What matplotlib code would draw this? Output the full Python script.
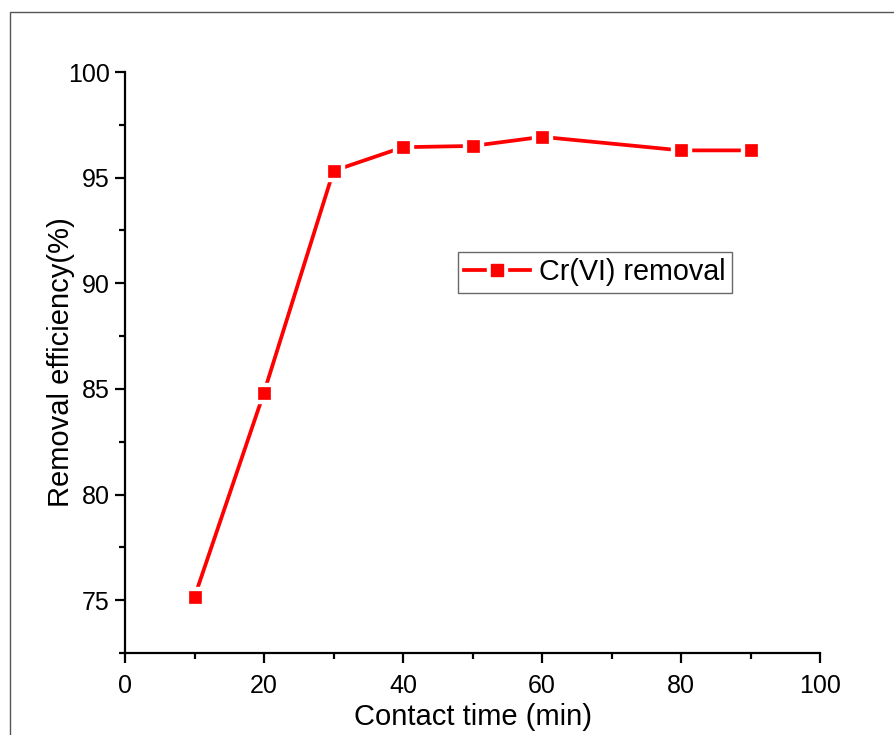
import matplotlib
matplotlib.use('Agg')
import matplotlib.pyplot as plt
from matplotlib.patches import Rectangle
from matplotlib.ticker import MultipleLocator
from matplotlib.lines import Line2D

plt.rcParams['font.family'] = ['Liberation Sans', 'DejaVu Sans']

# contact time (min) vs removal efficiency (%)
tempo = [10, 20, 30, 40, 50, 60, 80, 90]
remocao = [75.15, 84.83, 95.32, 96.44, 96.50, 96.93, 96.29, 96.29]
rotulo = 'Cr(VI) removal'

fig = plt.figure(figsize=(8.94, 7.35), dpi=100)
ax = fig.add_axes([125/894, 1-653/735, 695/894, 581/735])

vermelho = '#ff0000'
lw_linha = 2.7
ms_branco = 14.0
ms_marc = 8.8
ax.plot(tempo, remocao, color=vermelho, lw=lw_linha, zorder=2)
# white squares behind the markers make the small gaps in the line
ax.plot(tempo, remocao, ls='none', marker='s', ms=ms_branco, mfc='white', mec='white', zorder=3)
ax.plot(tempo, remocao, ls='none', marker='s', ms=ms_marc, mfc=vermelho, mec=vermelho, mew=0.5, zorder=4)

ax.set_xlim(0, 100)
ax.set_ylim(72.5, 100)
ax.xaxis.set_major_locator(MultipleLocator(20))
ax.xaxis.set_minor_locator(MultipleLocator(10))
ax.yaxis.set_major_locator(MultipleLocator(5))
ax.yaxis.set_minor_locator(MultipleLocator(2.5))

for lado in ['top', 'right']:
    ax.spines[lado].set_visible(False)
for lado in ['left', 'bottom']:
    ax.spines[lado].set_linewidth(1.6)

ax.tick_params(which='major', direction='out', length=7, width=1.6, labelsize=18, pad=4)
ax.tick_params(which='minor', direction='out', length=4, width=1.6)
ax.tick_params(axis='x', which='major', pad=8)

ax.set_xlabel('Contact time (min)', fontsize=21, labelpad=4)
ax.set_ylabel('Removal efficiency(%)', fontsize=21)
ax.yaxis.set_label_coords(-0.072, 0.5)

# legend entry: line + white square + red square overlaid
h_linha = Line2D([], [], color=vermelho, lw=lw_linha)
h_branco = Line2D([], [], ls='none', marker='s', ms=ms_branco, mfc='white', mec='white')
h_marc = Line2D([], [], ls='none', marker='s', ms=ms_marc, mfc=vermelho, mec=vermelho)
leg = ax.legend([(h_linha, h_branco, h_marc)], [rotulo], loc='upper left',
                bbox_to_anchor=(458/894, 1-252/735), bbox_transform=fig.transFigure,
                borderaxespad=0, fontsize=20.7, frameon=True, fancybox=False,
                handlelength=2.3, handletextpad=0.3, borderpad=0.22)
leg.get_frame().set_edgecolor('#444444')
leg.get_frame().set_linewidth(1.0)

# outer frame line
fig.patches.append(Rectangle((10/894, -0.5), 2.0, 1.5 - 12/735, transform=fig.transFigure,
                             fill=False, edgecolor='#555555', lw=1.0))

fig.savefig('out.png', dpi=100)
